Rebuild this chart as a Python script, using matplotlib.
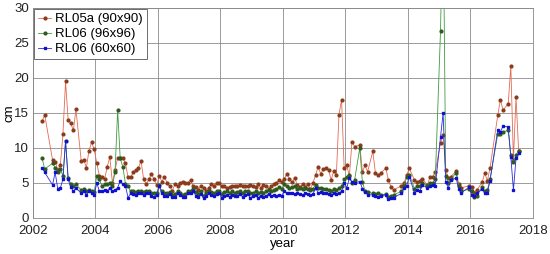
import matplotlib
matplotlib.use("Agg")
import matplotlib.pyplot as plt
import numpy as np

# monthly solutions (year, list of months available)
years = [2002, 2003, 2004, 2005, 2006, 2007, 2008, 2009, 2010,
         2011, 2012, 2013, 2014, 2015, 2016, 2017]
months = [
    [4, 5, 8, 9, 10, 11, 12],
    [1, 2, 3, 4, 5, 7, 8, 9, 10, 11, 12],
    list(range(1, 13)), list(range(1, 13)), list(range(1, 13)),
    list(range(1, 13)), list(range(1, 13)), list(range(1, 13)),
    list(range(1, 13)), list(range(1, 13)),
    [1, 2, 3, 4, 6, 7, 8, 9, 11, 12],
    [1, 2, 4, 5, 6, 7, 10, 11, 12],
    [1, 3, 4, 5, 6, 8, 9, 10, 11],
    [1, 2, 3, 4, 5, 7, 8, 9, 12],
    [1, 2, 3, 5, 6, 7, 8, 11, 12],
    [1, 3, 4, 5, 6, 7],
]

rl05a = [
    13.8, 14.7, 8.3, 8.0, 6.9, 7.5, 12.0,
    19.5, 14.0, 13.5, 12.5, 15.5, 8.2, 8.3, 7.2, 9.6, 10.8, 9.8,
    7.8, 6.0, 5.8, 5.5, 7.3, 8.7, 5.0, 6.8, 8.6, 8.5, 8.6, 7.8,
    5.8, 5.8, 6.5, 6.8, 7.2, 8.1, 5.5, 4.8, 5.5, 6.3, 5.5, 4.7,
    6.0, 5.2, 5.9, 5.0, 4.5, 3.9, 4.8, 4.6, 5.0, 5.2, 5.0, 5.0,
    5.4, 4.5, 4.4, 4.0, 4.6, 4.3, 3.9, 4.3, 4.8, 4.6, 5.0, 5.0,
    4.5, 4.5, 4.3, 4.4, 4.6, 4.5, 4.5, 4.7, 4.6, 4.5, 4.6, 4.7,
    4.6, 4.4, 4.8, 4.3, 4.7, 4.6, 4.2, 4.5, 4.8, 5.0, 5.4, 5.1,
    5.6, 6.3, 5.5, 5.1, 5.7, 4.7, 4.4, 4.8, 4.4, 4.9, 4.1, 5.0,
    6.1, 7.3, 6.3, 7.0, 7.1, 6.9, 5.4, 6.7, 6.1, 14.7, 16.9, 7.1,
    7.5, 6.0, 10.9, 10.2, 10.4, 6.6, 7.5, 6.6, 9.5, 6.4,
    6.1, 6.4, 7.1, 5.4, 4.4, 4.0, 4.6, 5.0, 6.1,
    7.1, 5.4, 5.1, 5.3, 5.6, 4.7, 5.9, 5.9, 6.6,
    10.7, 11.9, 6.9, 5.7, 5.9, 6.7, 4.8, 4.3, 4.6,
    4.4, 3.6, 4.0, 5.1, 6.4, 5.3, 7.1, 14.7, 16.9,
    15.4, 16.3, 21.7, 8.3, 17.3, 9.5,
]

rl06_96 = [
    8.5, 7.0, 7.8, 7.2, 6.5, 7.0, 6.0,
    11.0, 5.7, 4.9, 4.5, 4.8, 4.0, 4.2, 3.8, 4.0, 3.9, 3.7,
    6.0, 5.5, 4.5, 4.8, 4.9, 5.0, 4.6, 6.5, 15.4, 8.5, 7.3, 4.9,
    4.5, 3.8, 3.9, 3.7, 3.9, 3.8, 3.7, 3.8, 3.9, 3.6, 3.5, 3.6,
    4.7, 3.8, 3.6, 3.5, 3.7, 3.3, 3.4, 3.8, 3.6, 3.3, 3.4, 3.8,
    3.9, 4.2, 3.7, 3.4, 3.8, 3.2, 3.6, 3.9, 3.7, 3.5, 3.8, 3.9,
    3.4, 3.7, 3.8, 3.5, 3.8, 3.6, 3.7, 3.9, 3.5, 3.8, 3.9, 3.5,
    3.6, 3.8, 3.5, 3.7, 3.6, 3.8, 4.0, 3.8, 4.0, 4.1, 4.4, 4.2,
    4.8, 4.5, 4.3, 4.4, 4.5, 4.2, 4.3, 4.2, 4.3, 4.1, 4.0, 4.2,
    4.7, 4.3, 4.3, 4.1, 4.2, 4.0, 3.9, 4.1, 4.0, 4.3, 4.5, 5.5,
    5.9, 6.1, 5.0, 5.4, 10.0, 5.1, 3.9, 3.7, 3.5, 3.4,
    3.5, 3.3, 3.4, 3.0, 3.2, 3.3, 3.8, 4.6, 5.8,
    6.2, 4.2, 4.5, 4.6, 5.0, 4.6, 5.0, 5.0, 5.6,
    26.7, 45.0, 6.0, 5.0, 5.6, 6.4, 4.5, 3.8, 4.1,
    3.9, 3.0, 3.2, 4.4, 3.8, 4.0, 5.5, 12.0, 12.0,
    12.3, 12.5, 9.0, 8.0, 9.0, 9.6,
]

rl06_60 = [
    7.2, 6.5, 4.7, 6.5, 4.2, 4.3, 5.5,
    11.0, 5.5, 4.4, 3.8, 4.3, 3.5, 3.8, 3.3, 3.8, 3.6, 3.3,
    5.0, 3.8, 3.8, 4.0, 3.9, 4.3, 3.8, 4.0, 4.3, 5.3, 4.8, 4.6,
    2.9, 3.5, 3.4, 3.3, 3.5, 3.5, 3.3, 3.5, 3.5, 3.1, 3.0, 3.3,
    4.5, 3.5, 3.2, 3.2, 3.4, 3.0, 3.0, 3.5, 3.3, 3.0, 3.0, 3.5,
    3.5, 3.8, 3.2, 3.0, 3.4, 2.8, 3.2, 3.5, 3.3, 3.1, 3.4, 3.5,
    2.9, 3.2, 3.3, 3.0, 3.3, 3.1, 3.2, 3.4, 3.0, 3.3, 3.4, 2.9,
    3.1, 3.3, 2.9, 3.2, 3.0, 3.2, 3.4, 3.1, 3.3, 3.2, 3.3, 3.2,
    3.8, 3.5, 3.6, 3.5, 3.4, 3.5, 3.4, 3.3, 3.5, 3.4, 3.3, 3.4,
    4.3, 3.6, 3.7, 3.5, 3.6, 3.4, 3.3, 3.5, 3.4, 3.6, 3.8, 5.0,
    4.3, 5.7, 5.1, 5.0, 5.2, 4.2, 3.7, 3.3, 3.3, 3.2,
    3.0, 3.2, 3.3, 2.7, 2.8, 2.9, 3.5, 4.3, 4.6,
    5.9, 3.6, 4.0, 3.8, 4.7, 4.3, 4.5, 4.7, 4.6,
    11.6, 15.0, 5.1, 4.3, 5.4, 5.7, 4.1, 3.6, 4.4,
    3.3, 3.2, 3.5, 4.1, 3.6, 3.6, 5.3, 12.6, 12.3,
    13.1, 13.0, 8.7, 4.0, 8.5, 9.3,
]

t = np.array([y + (m - 0.5) / 12 for y, ms in zip(years, months) for m in ms])

plt.rcParams['font.family'] = 'Liberation Sans'
fig = plt.figure(figsize=(5.5, 2.54), dpi=100)
ax = fig.add_axes([0.060, 0.142, 0.909, 0.827])

ax.plot(t, rl05a, '-', color='#e36a55', lw=0.6, marker='o', ms=2.0,
        mfc='#8b3a1a', mec='#8b3a1a', label='RL05a (90x90)')
ax.plot(t, rl06_96, '-', color='#3f9b3f', lw=0.6, marker='o', ms=2.0,
        mfc='#2f5a1f', mec='#2f5a1f', label='RL06 (96x96)')
ax.plot(t, rl06_60, '-', color='#2a2ae0', lw=0.6, marker='s', ms=2.0,
        mfc='#1010d0', mec='#1010d0', label='RL06 (60x60)')

ax.set_xlim(2002, 2018)
ax.set_ylim(0, 30)
ax.set_xticks(np.arange(2002, 2019, 2))
ax.set_yticks(np.arange(0, 31, 5))
ax.grid(True, color='#8c8c8c', lw=0.6)
ax.set_axisbelow(True)
ax.tick_params(direction='in', labelsize=9.5, length=0, colors='#222222')
ax.tick_params(axis='x', pad=5)
ax.tick_params(axis='y', pad=3)
for s in ax.spines.values():
    s.set_color('#888888')
    s.set_linewidth(0.6)
ax.set_xlabel('year', fontsize=9.5)
ax.xaxis.set_label_coords(0.5, -0.095)
ax.set_ylabel('cm', fontsize=9.5)
ax.yaxis.set_label_coords(-0.035, 0.5)

leg = ax.legend(loc='upper left', fontsize=9.5, frameon=True, fancybox=False,
                borderaxespad=0.1, handlelength=1.0, handletextpad=0.3,
                labelspacing=0.2, borderpad=0.3)
leg.get_frame().set_edgecolor('#555555')
leg.get_frame().set_linewidth(0.6)
leg.get_frame().set_alpha(1)

fig.savefig('out.png', dpi=100)
